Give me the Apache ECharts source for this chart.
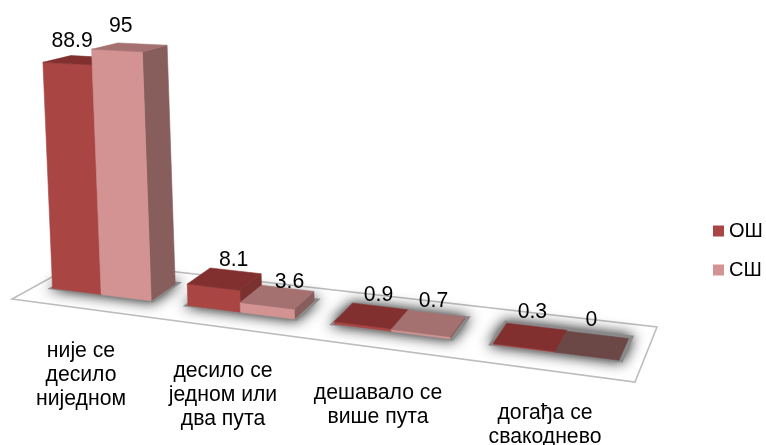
<!DOCTYPE html>
<html><head><meta charset="utf-8">
<style>html,body{margin:0;padding:0;background:#fff}#c{width:766px;height:445px}</style>
<script src="https://cdn.jsdelivr.net/npm/echarts@6/dist/echarts.min.js"></script>
</head><body><div id="c"></div>
<script>
// ---- data
const categories = ['није се\nдесило\nниједном', 'десило се\nједном или\nдва пута', 'дешавало се\nвише пута', 'догађа се\nсвакоднево'];
const seriesNames = ['ОШ', 'СШ'];
const osValues = [88.9, 8.1, 0.9, 0.3];
const ssValues = [95, 3.6, 0.7, 0];

// ---- layout and style
const FONT_FAMILY = '"Liberation Sans", Arial, sans-serif';
const FONT = '21.2px ' + FONT_FAMILY;
const floor = {fl:[12,299], fr:[635,382], br:[657,327], bl:[81,261]};
const PERSP = 0.15, V0 = 0.34, V1 = 0.74, BAR_BAND = 0.368;
const VP = [650, 14000];
const palette = [
  {front:'#A94543', top:'#82302F', side:'#7A3130', zero:'#82302F'},
  {front:'#D29392', top:'#A57070', side:'#885E5D', zero:'#6B4846'}
];
const catLabelX = [81, 223, 378, 545];
const catLabelY = [351, 371, 393, 413];
const valLabelNudge = [[[-9,-19],[9,-19],[7,-21],[2,-25]], [[-9,-21],[12,-15],[5,-22],[-1,-25]]];
const GRID = {left:12, top:45, width:623, height:254};

// floor projection: s along the axis, v depth, h height in px on the value scale
function ground(s, v) {
  const t = s * (1 - PERSP) / (1 - PERSP * s);
  const lerp = (a, b, k) => [a[0] + (b[0]-a[0])*k, a[1] + (b[1]-a[1])*k];
  return lerp(lerp(floor.fl, floor.fr, t), lerp(floor.bl, floor.br, t), v);
}
function lift(p, h) {
  const k = h * (1 + 0.0025 * (p[1] - 288));
  return [p[0] + (p[0] - VP[0]) / VP[1] * k, p[1] - k];
}
function band(api, i) {
  const c = (api.coord([i, 0])[0] - GRID.left) / GRID.width;
  const w = api.size([1, 0])[0] / GRID.width;
  return {c, w};
}
const poly = (points, fill) => ({type:'polygon', shape:{points},
  style:{fill, stroke:fill, lineWidth:0.6}});

function barSeries(idx) {
  return function (params, api) {
    const i = api.value(0), val = api.value(1);
    const b = band(api, i);
    const s0 = b.c - b.w * BAR_BAND + idx * b.w * BAR_BAND;
    const s1 = s0 + b.w * BAR_BAND;
    const h = api.coord([i, 0])[1] - api.coord([i, val])[1];
    const fl = ground(s0, V0), fr = ground(s1, V0), bl = ground(s0, V1), br = ground(s1, V1);
    const tfl = lift(fl, h), tfr = lift(fr, h), tbl = lift(bl, h), tbr = lift(br, h);
    const col = palette[idx];
    const kids = [];
    if (val > 0) {
      kids.push(poly([fr, br, tbr, tfr], col.side));
      kids.push(poly([fl, fr, tfr, tfl], col.front));
      kids.push(poly([tfl, tfr, tbr, tbl], col.top));
    } else {
      kids.push(poly([tfl, tfr, tbr, tbl], col.zero));
    }
    const cx = (tfl[0] + tfr[0] + tbr[0] + tbl[0]) / 4;
    const cy = (tfl[1] + tfr[1] + tbr[1] + tbl[1]) / 4;
    const n = valLabelNudge[idx][i];
    kids.push({type:'text', z2:10, style:{text:String(val), x:cx+n[0], y:cy+n[1],
      align:'center', verticalAlign:'middle', font:FONT, fill:'#000'}});
    return {type:'group', children:kids};
  };
}
const pairs = (vals) => vals.map((v, i) => [i, v]);

const chart = echarts.init(document.getElementById('c'));
chart.setOption({
  animation:false,
  backgroundColor:'#fff',
  grid:GRID,
  xAxis:{type:'category', data:categories, show:false, boundaryGap:true},
  yAxis:{type:'value', min:0, max:100, show:false},
  legend:{orient:'vertical', left:713, top:221, padding:0, data:seriesNames, icon:'rect', itemWidth:11, itemHeight:11,
    itemGap:19, textStyle:{fontFamily:FONT_FAMILY, fontSize:20, color:'#000'}},
  series:[
    {type:'custom', name:'floor', silent:true, clip:false, data:[[0,0]], z:1,
      renderItem:function(){
        return {type:'polygon', shape:{points:[floor.fl,floor.fr,floor.br,floor.bl]},
          style:{fill:'#fff', stroke:'#BDBDBD', lineWidth:1.6}};
      }},
    {type:'custom', name:'shadow', silent:true, clip:false, data:pairs(osValues), z:2,
      renderItem:function(params, api){
        const i = api.value(0), b = band(api, i);
        const s0 = b.c - b.w*BAR_BAND - 0.006, s1 = b.c + b.w*BAR_BAND + 0.006;
        const v0 = V0 - 0.03, v1 = V1 + 0.06;
        return {type:'group', children:[
          {type:'polygon', shape:{points:[ground(s0,v0),ground(s1,v0),ground(s1,v1),ground(s0,v1)]},
           style:{fill:'#8a8a8a', shadowBlur:14, shadowColor:'rgba(0,0,0,0.9)'}},
          {type:'text', style:{text:categories[i], x:catLabelX[i], y:catLabelY[i]-12, align:'center', verticalAlign:'top',
           font:FONT, lineHeight:24, fill:'#000'}}
        ]};
      }},
    {type:'custom', name:seriesNames[0], clip:false, z:3, data:pairs(osValues), itemStyle:{color:palette[0].front}, renderItem:barSeries(0)},
    {type:'custom', name:seriesNames[1], clip:false, z:4, data:pairs(ssValues), itemStyle:{color:palette[1].front}, renderItem:barSeries(1)}
  ]
});
</script></body></html>
